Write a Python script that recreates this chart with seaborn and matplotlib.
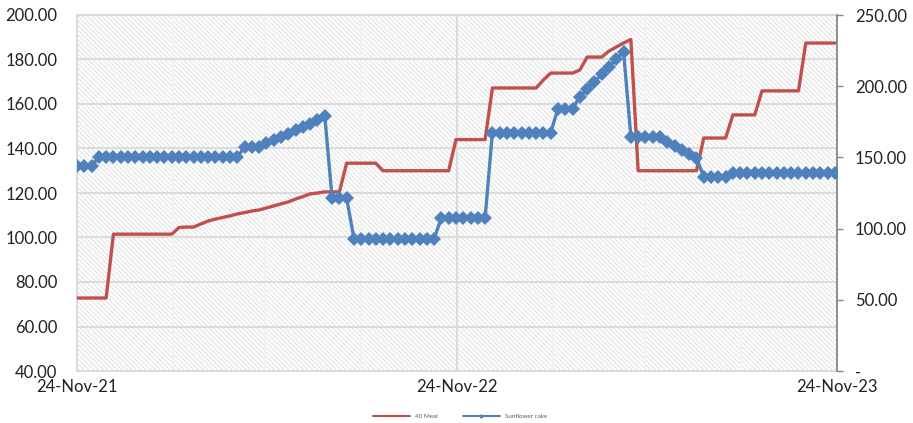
# meal_vs_cake.py
# Weekly prices: 40 Meal (left axis) vs Sunflower cake (right axis)

import pandas as pd
import matplotlib.pyplot as plt
import matplotlib.dates as mdates
from matplotlib.patches import Rectangle
from matplotlib.lines import Line2D
from matplotlib.ticker import FuncFormatter, MultipleLocator
import seaborn as sns

# Weekly dates, 24-Nov-21 onwards
dates = pd.date_range("2021-11-24", periods=105, freq="7D")

# 40 Meal (left axis)
meal = ([72.8] * 5 + [101.5] * 9 + [104.5, 104.7, 104.7,
        106.1, 107.4, 108.3, 109.0, 109.7, 110.6, 111.2, 111.9, 112.4,
        113.3, 114.2, 115.1, 116.0, 117.3, 118.4, 119.6, 120.0]
        + [120.5] * 3 + [133.4] * 5 + [130.0] * 10 + [144.0] * 5
        + [167.2] * 7 + [170.8] + [173.9] * 4 + [175.3] + [181.1] * 3
        + [183.8, 185.6, 187.4, 189.0] + [130.0] * 9 + [144.7] * 4
        + [155.1] * 4 + [165.9] * 6 + [187.4] * 5)

# Sunflower cake (right axis)
cake = ([144.2] * 3 + [150.1] * 20 + [157.5] * 3
        + [160.1, 162.2, 164.3, 166.4, 168.9, 171.4, 173.8, 176.3, 179.1]
        + [121.5] * 3 + [93.0] * 12 + [107.5] * 7 + [167.4] * 9 + [184.3] * 3
        + [192.6, 197.9, 203.1, 208.4, 213.7, 218.9, 224.2]
        + [164.5] * 5 + [160.8, 158.0, 155.2, 152.4, 149.6]
        + [136.5] * 4 + [139.3] * 15)

series_names = ["40 Meal", "Sunflower cake"]
red = "#C0504D"
blue = "#4F81BD"

df = pd.DataFrame({"Date": dates, "Meal": meal, "Cake": cake})

sns.set_style("white")
plt.rcParams["font.family"] = ["Lato", "DejaVu Sans"]
plt.rcParams["hatch.color"] = "#e2e2e2"
plt.rcParams["hatch.linewidth"] = 0.75

fig = plt.figure(figsize=(9.13, 4.23), dpi=100)
ax = fig.add_axes([77 / 913, 1 - 371 / 423, 760 / 913, 356 / 423])
ax2 = ax.twinx()

# striped plot area
ax.add_patch(Rectangle((0, 0), 1, 1, transform=ax.transAxes, facecolor="white",
                       edgecolor="#e2e2e2", hatch="\\" * 7, linewidth=0, zorder=0))

sns.lineplot(data=df, x="Date", y="Meal", ax=ax, color=red, linewidth=2.4,
             solid_joinstyle="round", zorder=3)
sns.lineplot(data=df, x="Date", y="Cake", ax=ax2, color=blue, linewidth=2.4,
             marker="D", markersize=7, markeredgewidth=0, zorder=3)

# axes ranges and ticks
ax.set_xlim(pd.Timestamp("2021-11-24"), pd.Timestamp("2023-11-24"))
ax.set_ylim(40, 200)
ax2.set_ylim(0, 250)
ax.yaxis.set_major_locator(MultipleLocator(20))
ax2.yaxis.set_major_locator(MultipleLocator(50))
ax.yaxis.set_major_formatter(FuncFormatter(lambda v, p: f"{v:.2f}"))
ax2.yaxis.set_major_formatter(FuncFormatter(lambda v, p: "-" if v == 0 else f"{v:.2f}"))

ax.xaxis.set_major_locator(mdates.MonthLocator(bymonth=11, bymonthday=24))
ax.xaxis.set_minor_locator(mdates.MonthLocator(bymonth=[2, 5, 8], bymonthday=24))
ax.xaxis.set_major_formatter(mdates.DateFormatter("%d-%b-%y"))

ax.grid(axis="y", color="#d9d9d9", linewidth=1.3, zorder=1)
ax.grid(axis="x", which="major", color="#d9d9d9", linewidth=1.3)
ax.grid(axis="x", which="minor", color="#f2f2f2", linewidth=1.3)
ax.set_axisbelow(False)

ax.set_xlabel("")
ax.set_ylabel("")
ax2.set_ylabel("")
ax.tick_params(axis="both", which="both", length=0, labelsize=12, colors="#222222")
ax.tick_params(axis="y", pad=14)
ax.tick_params(axis="x", pad=6)
ax2.tick_params(axis="y", length=4, width=1, color="#868686", labelsize=12,
                labelcolor="#222222", pad=9)

for side in ["left", "bottom", "top"]:
    ax.spines[side].set_color("#d9d9d9")
    ax.spines[side].set_linewidth(1.3)
ax.spines["right"].set_visible(False)
for side in ["left", "bottom", "top"]:
    ax2.spines[side].set_visible(False)
ax2.spines["right"].set_color("#868686")
ax2.spines["right"].set_linewidth(1.3)

# small legend at the bottom
handles = [Line2D([], [], color=red, linewidth=1.5),
           Line2D([], [], color=blue, linewidth=1.5, marker="D", markersize=2.5,
                  markeredgewidth=0)]
fig.legend(handles, series_names, loc="center", bbox_to_anchor=(460 / 913, 1 - 416 / 423),
           ncol=2, frameon=False, fontsize=4.5, handlelength=6, columnspacing=4,
           labelcolor="#595959")

fig.savefig("out.png", dpi=100)
